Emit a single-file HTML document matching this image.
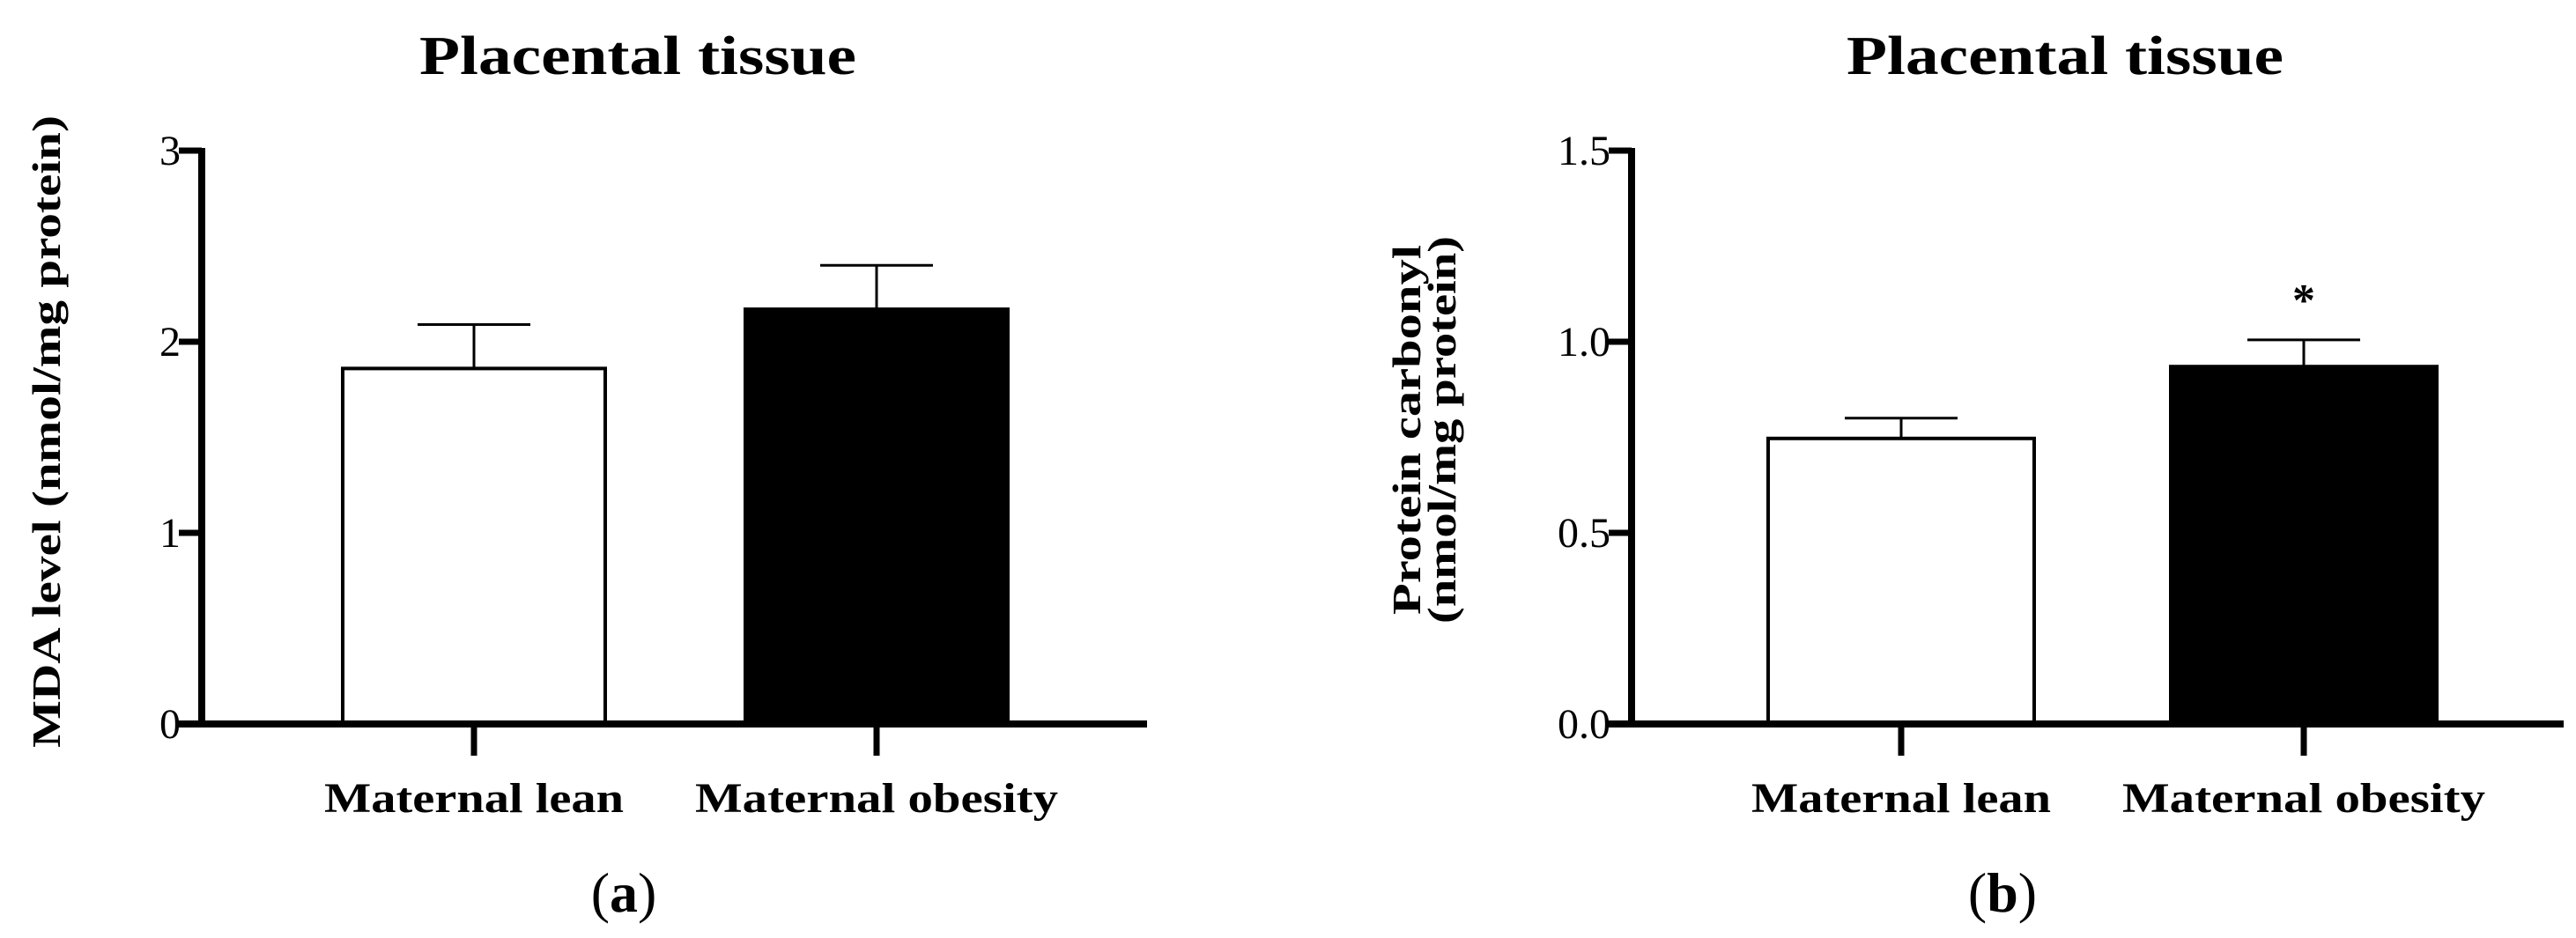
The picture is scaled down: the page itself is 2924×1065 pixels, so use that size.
<!DOCTYPE html>
<html><head><meta charset="utf-8"><style>
html,body{margin:0;padding:0;background:#fff;}
svg{display:block;}
text{font-family:"Liberation Serif",serif;fill:#000;}
</style></head><body>
<svg id="chart" width="2924" height="1065" viewBox="0 0 2924 1065" xmlns="http://www.w3.org/2000/svg"></svg>
<script>
const categories = ["Maternal lean", "Maternal obesity"];
const mdaValues = [1.86, 2.17];
const mdaErrors = [0.23, 0.23];
const mdaTicks = [0, 1, 2, 3];
const mdaTickLabels = ["0", "1", "2", "3"];
const pcValues = [0.747, 0.935];
const pcErrors = [0.053, 0.07];
const pcTicks = [0, 0.5, 1.0, 1.5];
const pcTickLabels = ["0.0", "0.5", "1.0", "1.5"];
const pcSignif = ["", "*"];

const NS = "http://www.w3.org/2000/svg";
const svg = document.getElementById("chart");
function mk(tag, attrs, parent) {
  const e = document.createElementNS(NS, tag);
  for (const k in attrs) e.setAttribute(k, attrs[k]);
  (parent || svg).appendChild(e);
  return e;
}

function panel(cfg) {
  const g = mk("g", {});
  
  
  const y = v => cfg.base - (v - cfg.min) / (cfg.max - cfg.min) * (cfg.base - cfg.top);
  // title
  const t = mk("text", {x: cfg.titleX, y: 84, "font-size": 62, "font-weight": "bold", "text-anchor": "middle", textLength: 496, lengthAdjust: "spacingAndGlyphs"}, g);
  t.textContent = "Placental tissue";
  
  
  // bars
  cfg.values.forEach((v, i) => {
    const cx = cfg.catX[i];
    const x0 = cx - cfg.barW / 2;
    const bar = mk("rect", {x: x0, y: y(v), width: cfg.barW, height: cfg.base - y(v), fill: i ? "#000" : "#fff", stroke: "#000", "stroke-width": 4}, g);
    
    
    const et = y(v + cfg.errors[i]);
    const eb = mk("path", {d: `M${cx},${y(v)} V${et} M${cx - 64},${et} H${cx + 64}`, stroke: "#000", "stroke-width": 3, fill: "none"}, g);
    
    
    if (cfg.signif && cfg.signif[i]) {
      const s = mk("text", {x: cx, y: et - 28, "font-size": 52, "font-weight": "bold", "text-anchor": "middle"}, g);
      s.textContent = cfg.signif[i];
      
      
    }
    const ct = mk("line", {x1: cx, x2: cx, y1: cfg.base, y2: 858, stroke: "#000", "stroke-width": 7}, g);
    
    
    const lbl = mk("text", {x: cx, y: 922, "font-size": 48, "font-weight": "bold", "text-anchor": "middle", textLength: i ? 412 : 340, lengthAdjust: "spacingAndGlyphs"}, g);
    lbl.textContent = categories[i];
    
    
  });
  // axes
  const ya = mk("line", {x1: cfg.axisX, x2: cfg.axisX, y1: cfg.top - 3, y2: cfg.base + 4, stroke: "#000", "stroke-width": 8}, g);
  
  
  const xa = mk("line", {x1: cfg.axisX - 26, x2: cfg.axisEnd, y1: cfg.base, y2: cfg.base, stroke: "#000", "stroke-width": 8}, g);
  
  
  cfg.ticks.forEach((tv, i) => {
    const tk = mk("line", {x1: cfg.axisX - 26, x2: cfg.axisX, y1: y(tv), y2: y(tv), stroke: "#000", "stroke-width": 7}, g);
    
    
    const tl = mk("text", {x: cfg.axisX - 24, y: y(tv) + 16, "font-size": 48, "text-anchor": "end"}, g);
    tl.textContent = cfg.tickLabels[i];
    
    
  });
  // y-axis title
  cfg.yLabel.forEach((line, i) => {
    const lx = cfg.yLabelX[i];
    const yl = mk("text", {x: 0, y: 0, transform: `translate(${lx},${cfg.yLabelY}) rotate(-90)`, "font-size": 46, "font-weight": "bold", "text-anchor": "middle", textLength: cfg.yLabelLen[i], lengthAdjust: "spacingAndGlyphs"}, g);
    yl.textContent = line;
    
    
  });
  const pl = mk("text", {x: cfg.panelX, y: 1035, "font-size": 64, "text-anchor": "middle"}, g);
  pl.innerHTML = '(<tspan font-weight="bold">' + cfg.panelLetter + '</tspan>)';
  
  
}

panel({name: "panel-a-mda", values: mdaValues, errors: mdaErrors, ticks: mdaTicks, tickLabels: mdaTickLabels,
  min: 0, max: 3, top: 171, base: 822, axisX: 229, axisEnd: 1302, catX: [538, 995], barW: 298,
  titleX: 724, yLabel: ["MDA level (nmol/mg protein)"], yLabelX: [68], yLabelY: 490, yLabelLen: [718],
  panelX: 708, panelLetter: "a"});
panel({name: "panel-b-protein-carbonyl", values: pcValues, errors: pcErrors, ticks: pcTicks, tickLabels: pcTickLabels,
  min: 0, max: 1.5, top: 171, base: 822, axisX: 1852, axisEnd: 2910, catX: [2158, 2615], barW: 302, signif: pcSignif,
  titleX: 2344, yLabel: ["Protein carbonyl", "(nmol/mg protein)"], yLabelX: [1612, 1652], yLabelY: 488, yLabelLen: [420, 440],
  panelX: 2273, panelLetter: "b"});
</script>
</body></html>
